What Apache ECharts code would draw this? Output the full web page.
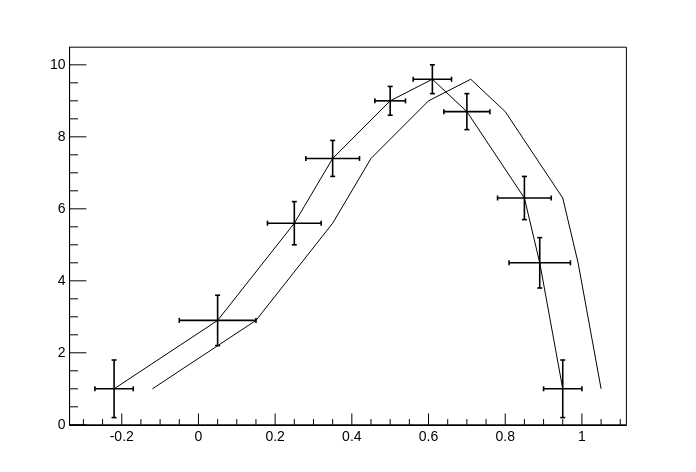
<!DOCTYPE html>
<html>
<head>
<meta charset="utf-8">
<script src="https://cdn.jsdelivr.net/npm/echarts@6/dist/echarts.min.js"></script>
<style>html,body{margin:0;padding:0;background:#fff}#c{width:696px;height:472px}</style>
</head>
<body>
<div id="c"></div>
<script>
// Graph 1 (with errors)
const x1 = [-0.22, 0.05, 0.25, 0.35, 0.5, 0.61, 0.7, 0.85, 0.89, 0.95];
const y1 = [1, 2.9, 5.6, 7.4, 9, 9.6, 8.7, 6.3, 4.5, 1];
const ex1 = [0.05, 0.1, 0.07, 0.07, 0.04, 0.05, 0.06, 0.07, 0.08, 0.05];
const ey1 = [0.8, 0.7, 0.6, 0.5, 0.4, 0.4, 0.5, 0.6, 0.7, 0.8];
// Graph 2 (line only)
const x2 = [-0.12, 0.15, 0.35, 0.45, 0.6, 0.71, 0.8, 0.95, 0.99, 1.05];
const y2 = [1, 2.9, 5.6, 7.4, 9, 9.6, 8.7, 6.3, 4.5, 1];
// Ticks
const xMajor = [-0.2, 0, 0.2, 0.4, 0.6, 0.8, 1];
const xMinor = [-0.3, -0.25, -0.15, -0.1, -0.05, 0.05, 0.1, 0.15, 0.25, 0.3, 0.35, 0.45, 0.5, 0.55, 0.65, 0.7, 0.75, 0.85, 0.9, 0.95, 1.05, 1.1];
const yMajor = [0, 2, 4, 6, 8, 10];
const yMinor = [0.5, 1, 1.5, 2.5, 3, 3.5, 4.5, 5, 5.5, 6.5, 7, 7.5, 8.5, 9, 9.5];

const X_MIN = -0.336, X_MAX = 1.116, Y_MIN = 0, Y_MAX = 10.49;
const FONT = 'Liberation Sans, Arial, sans-serif';

const chart = echarts.init(document.getElementById('c'), null, {renderer: 'canvas'});

const errData = x1.map((v, i) => [v, y1[i], ex1[i], ey1[i]]);
const line1 = x1.map((v, i) => [v, y1[i]]);
const line2 = x2.map((v, i) => [v, y2[i]]);
// tick records: [value, axis(0=x,1=y), length px]
const tickData = []
  .concat(xMajor.map(v => [v, 0, 11.3]))
  .concat(xMinor.map(v => [v, 0, 5.7]))
  .concat(yMajor.map(v => [v, 1, 16.8]))
  .concat(yMinor.map(v => [v, 1, 8.4]));

const option = {
  animation: false,
  backgroundColor: '#fff',
  grid: {left: 69.6, right: 69.6, top: 47.2, bottom: 47.2, show: true, borderColor: '#000', borderWidth: 1, backgroundColor: 'transparent'},
  xAxis: {
    type: 'value', min: X_MIN, max: X_MAX, splitLine: {show: false},
    axisLine: {show: true, onZero: false, lineStyle: {color: '#000', width: 1}},
    axisTick: {show: false},
    axisLabel: {show: true, customValues: xMajor, color: '#000', fontFamily: FONT, fontSize: 14, margin: 5,
      formatter: v => String(Math.round(v * 10) / 10)}
  },
  yAxis: {
    type: 'value', min: Y_MIN, max: Y_MAX, splitLine: {show: false},
    axisLine: {show: true, onZero: false, lineStyle: {color: '#000', width: 1}},
    axisTick: {show: false},
    axisLabel: {show: true, customValues: yMajor, color: '#000', fontFamily: FONT, fontSize: 14, margin: 4}
  },
  series: [
    {
      type: 'custom', data: tickData, silent: true, clip: false,
      encode: {x: -1, y: -1},
      renderItem: function (params, api) {
        const v = api.value(0), ax = api.value(1), len = api.value(2);
        let x1, y1, x2, y2;
        if (ax === 0) {
          const p = api.coord([v, Y_MIN]);
          x1 = x2 = p[0]; y1 = p[1]; y2 = p[1] - len;
        } else {
          const p = api.coord([X_MIN, v]);
          y1 = y2 = p[1]; x1 = p[0]; x2 = p[0] + len;
        }
        return {type: 'line', shape: {x1, y1, x2, y2}, style: {stroke: '#000', lineWidth: 1}};
      }
    },
    {
      type: 'line', data: line1, symbol: 'none',
      lineStyle: {color: '#000', width: 1}, silent: true
    },
    {
      type: 'line', data: line2, symbol: 'none',
      lineStyle: {color: '#000', width: 1}, silent: true
    },
    {
      type: 'custom', data: errData, silent: true,
      renderItem: function (params, api) {
        const x = api.value(0), y = api.value(1), ex = api.value(2), ey = api.value(3);
        const l = api.coord([x - ex, y]), r = api.coord([x + ex, y]);
        const t = api.coord([x, y + ey]), b = api.coord([x, y - ey]);
        const c = 2.5;
        const st = {stroke: '#000', lineWidth: 1.6, fill: null};
        const seg = (a1, b1, a2, b2) => ({type: 'line', shape: {x1: a1, y1: b1, x2: a2, y2: b2}, style: st});
        return {type: 'group', children: [
          seg(l[0], l[1], r[0], r[1]),
          seg(t[0], t[1], b[0], b[1]),
          seg(l[0], l[1] - c, l[0], l[1] + c),
          seg(r[0], r[1] - c, r[0], r[1] + c),
          seg(t[0] - c, t[1], t[0] + c, t[1]),
          seg(b[0] - c, b[1], b[0] + c, b[1])
        ]};
      }
    }
  ]
};
chart.setOption(option);
</script>
</body>
</html>
